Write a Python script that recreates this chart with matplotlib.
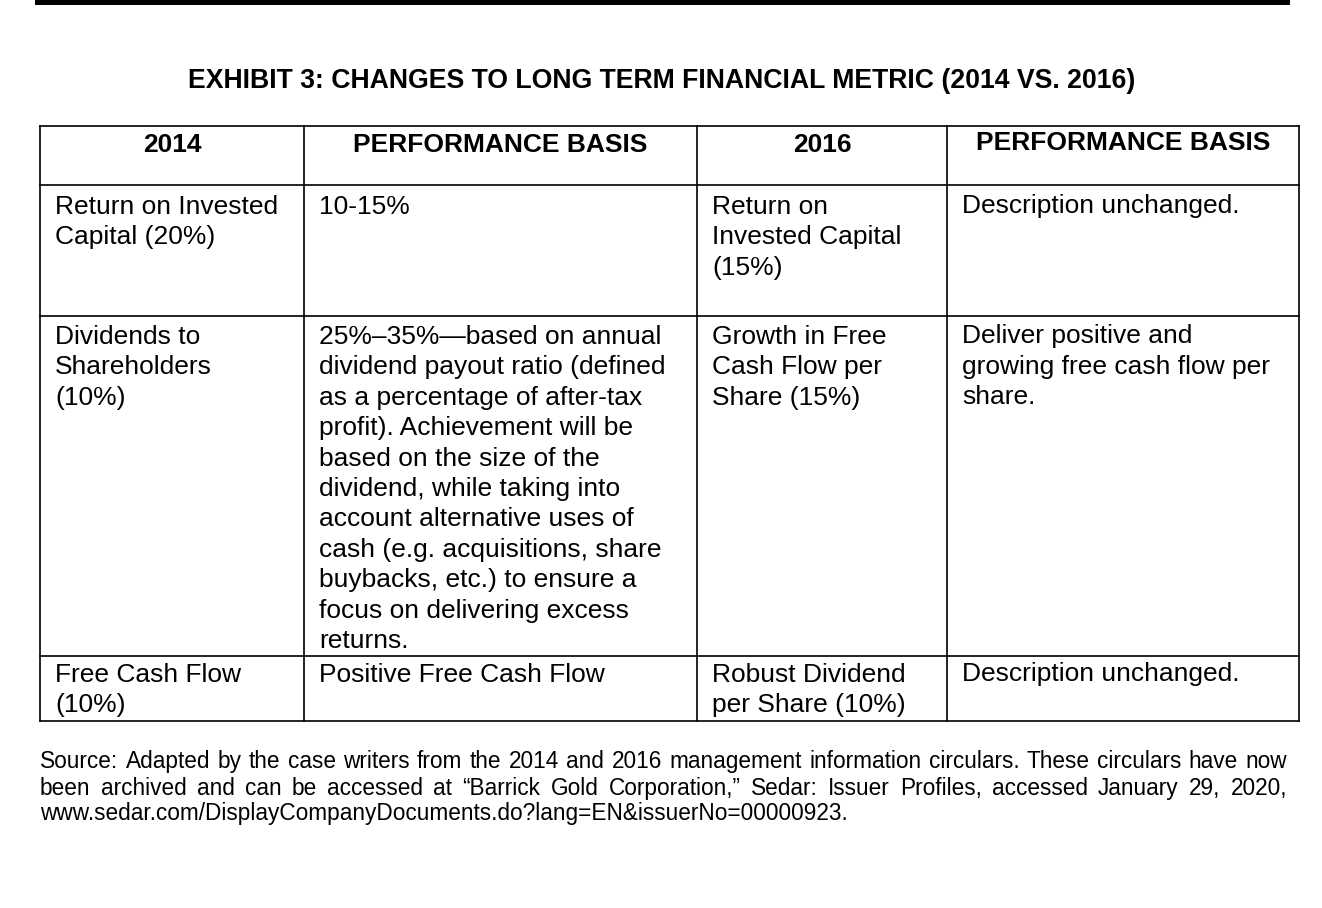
import matplotlib
matplotlib.use('Agg')
import matplotlib.pyplot as plt

# table content, one list of wrapped lines per cell
title = 'EXHIBIT 3: CHANGES TO LONG TERM FINANCIAL METRIC (2014 VS. 2016)'
headers = ['2014', 'PERFORMANCE BASIS', '2016', 'PERFORMANCE BASIS']

metrics_2014 = [
    ['Return on Invested', 'Capital (20%)'],
    ['Dividends to', 'Shareholders', '(10%)'],
    ['Free Cash Flow', '(10%)'],
]
basis_2014 = [
    ['10-15%'],
    ['25%\u201335%\u2014based on annual',
     'dividend payout ratio (defined',
     'as a percentage of after-tax',
     'profit). Achievement will be',
     'based on the size of the',
     'dividend, while taking into',
     'account alternative uses of',
     'cash (e.g. acquisitions, share',
     'buybacks, etc.) to ensure a',
     'focus on delivering excess',
     'returns.'],
    ['Positive Free Cash Flow'],
]
metrics_2016 = [
    ['Return on', 'Invested Capital', '(15%)'],
    ['Growth in Free', 'Cash Flow per', 'Share (15%)'],
    ['Robust Dividend', 'per Share (10%)'],
]
basis_2016 = [
    ['Description unchanged.'],
    ['Deliver positive and', 'growing free cash flow per', 'share.'],
    ['Description unchanged.'],
]
source_lines = [
    'Source: Adapted by the case writers from the 2014 and 2016 management '
    'information circulars. These circulars have now',
    'been archived and can be accessed at \u201cBarrick Gold Corporation,\u201d '
    'Sedar: Issuer Profiles, accessed January 29, 2020,',
    'www.sedar.com/DisplayCompanyDocuments.do?lang=EN&issuerNo=00000923.',
]

# layout (pixels)
W, H = 1322, 908
col_x = [40, 304, 697, 947, 1299]
row_y = [126, 185, 316, 656, 721]
pad_x = 15
pitch = 30.5
fs = 19
fs_title = 19.15
fs_src = 16.3
font = 'Liberation Sans'

fig = plt.figure(figsize=(W / 100, H / 100), dpi=100)
ax = fig.add_axes([0, 0, 1, 1])
ax.set_xlim(0, W)
ax.set_ylim(H, 0)
ax.axis('off')

# thick rule at the top
ax.fill_between([35, 1290], 0, 5, color='black', lw=0)

ax.text(661.5, 87.5, title, fontsize=fs_title, fontweight='bold', family=font,
        ha='center', va='baseline')

# grid
lw = 1.2
for x in col_x:
    ax.plot([x, x], [row_y[0], row_y[-1]], color='black', lw=lw,
            solid_capstyle='projecting')
for y in row_y:
    ax.plot([col_x[0], col_x[-1]], [y, y], color='black', lw=lw,
            solid_capstyle='projecting')

# header row
for i, h in enumerate(headers):
    cx = (col_x[i] + col_x[i + 1]) / 2
    yb = 150.5 if i == 3 else 151.5
    ax.text(cx, yb, h, fontsize=fs, fontweight='bold', family=font,
            ha='center', va='baseline')

# body rows
row_base = [213.5, 343.5, 681.5]
columns = [metrics_2014, basis_2014, metrics_2016, basis_2016]
for c, col in enumerate(columns):
    for r, cell in enumerate(col):
        for k, line in enumerate(cell):
            ax.text(col_x[c] + pad_x, row_base[r] + k * pitch, line,
                    fontsize=fs, family=font, ha='left', va='baseline')

# source note, justified except for the last line
fig.canvas.draw()
renderer = fig.canvas.get_renderer()
src_left, src_right = 40, 1287
src_base = [768, 795, 820]
for j, line in enumerate(source_lines):
    if j == len(source_lines) - 1:
        ax.text(src_left, src_base[j], line, fontsize=fs_src, family=font,
                ha='left', va='baseline')
        continue
    words = line.split(' ')
    texts = [ax.text(0, src_base[j], w, fontsize=fs_src, family=font,
                     ha='left', va='baseline') for w in words]
    widths = [t.get_window_extent(renderer).width for t in texts]
    gap = (src_right - src_left - sum(widths)) / (len(words) - 1)
    x = src_left
    for t, w in zip(texts, widths):
        t.set_x(x)
        x += w + gap

fig.savefig('out.png', dpi=100)
